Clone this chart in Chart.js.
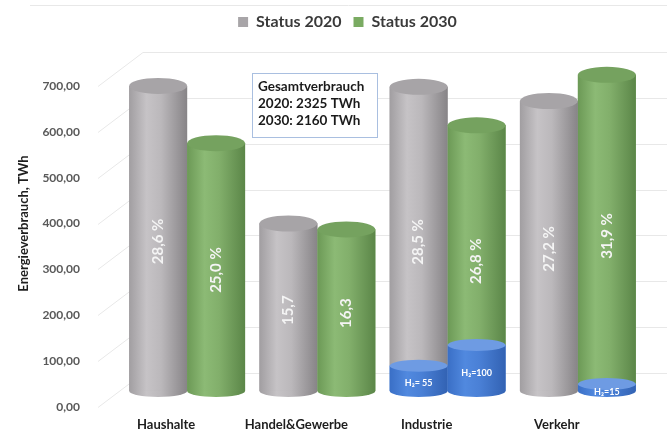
<!DOCTYPE html>
<html>
<head>
<meta charset="utf-8">
<script src="https://cdn.jsdelivr.net/npm/chart.js@4"></script>
<style>
  html, body { margin: 0; padding: 0; background: #fff; }
  #wrap { width: 667px; height: 434px; }
</style>
</head>
<body>
<div id="wrap"><canvas id="chart"></canvas></div>
<script>
// data (TWh)
const categories = ["Haushalte", "Handel&Gewerbe", "Industrie", "Verkehr"];
const status2020 = [665, 365, 663, 632];
const status2030 = [540, 352, 579, 689];
const h2_2020 = [0, 0, 55, 0];
const h2_2030 = [0, 0, 100, 15];
const shares2020 = ["28,6 %", "15,7", "28,5 %", "27,2 %"];
const shares2030 = ["25,0 %", "16,3", "26,8 %", "31,9 %"];
const h2Labels2020 = ["", "", "H₂= 55", ""];
const h2Labels2030 = ["", "", "H₂=100", "H₂=15"];
const yTicks = [0, 100, 200, 300, 400, 500, 600, 700];
const boxLines = ["Gesamtverbrauch", "2020: 2325 TWh", "2030: 2160 TWh"];

const FONT = "Lato, 'Open Sans', sans-serif";

const GRAY = ["#a19ea1", "#c6c3c6", "#bbb8bb", "#878487"];
const GREEN = ["#6c9956", "#8cba75", "#82af6b", "#5b8648"];
const BLUE = ["#3a6fc6", "#5189df", "#4a80d6", "#3262b3"];

function bodyGradient(ctx, x, w, cols) {
  const g = ctx.createLinearGradient(x - w / 2, 0, x + w / 2, 0);
  g.addColorStop(0, cols[0]);
  g.addColorStop(0.3, cols[1]);
  g.addColorStop(0.55, cols[2]);
  g.addColorStop(1, cols[3]);
  return g;
}

// legend sits a little right of centre in the original
const legendShift = {
  id: "legendShift",
  afterLayout(chart) {
    chart.legend.left += 20;
    chart.legend.right += 20;
  }
};

// back wall grid with the little perspective slants
const wallGrid = {
  id: "wallGrid",
  beforeDatasetsDraw(chart) {
    const ctx = chart.ctx;
    const y = chart.scales.y;
    const left = chart.chartArea.left;
    ctx.save();
    ctx.strokeStyle = "#e8e8e8";
    ctx.lineWidth = 1;
    yTicks.forEach(v => {
      const ty = Math.round(y.getPixelForValue(v)) + 0.5;
      ctx.beginPath();
      ctx.moveTo(left - 24, ty);
      ctx.lineTo(left + 21, ty - 34);
      ctx.lineTo(667, ty - 34);
      ctx.stroke();
    });
    ctx.beginPath();
    ctx.moveTo(30, 5.5);
    ctx.lineTo(667, 5.5);
    ctx.stroke();
    ctx.restore();
  }
};

// turn the flat bars into cylinders, add the labels inside
const cylinders = {
  id: "cylinders",
  afterDatasetsDraw(chart) {
    const ctx = chart.ctx;
    const zero = chart.scales.yb.getPixelForValue(0);
    const pairs = [
      [0, 1, GRAY, "#a7a4a7", shares2020, h2Labels2020],
      [2, 3, GREEN, "#75a25f", shares2030, h2Labels2030]
    ];
    ctx.save();
    pairs.forEach(([hi, mi, cols, capCol, shares, hLabels]) => {
      const hMeta = chart.getDatasetMeta(hi);
      const mMeta = chart.getDatasetMeta(mi);
      mMeta.data.forEach((bar, i) => {
        const m = bar.getProps(["x", "y", "base", "width"], true);
        const h = hMeta.data[i].getProps(["x", "y", "base", "width"], true);
        const hasH2 = chart.data.datasets[hi].data[i] > 0;
        const rx = m.width / 2;

        if (hasH2) {
          ctx.fillStyle = bodyGradient(ctx, h.x, h.width, BLUE);
          ctx.fillRect(h.x - rx, h.y, m.width, zero - h.y);
          ctx.beginPath();
          ctx.ellipse(h.x, zero, rx, 6, 0, 0, Math.PI);
          ctx.fill();
        }
        ctx.fillStyle = bodyGradient(ctx, m.x, m.width, cols);
        ctx.fillRect(m.x - rx, m.y, m.width, m.base - m.y);
        if (!hasH2) {
          ctx.beginPath();
          ctx.ellipse(m.x, zero, rx, 6, 0, 0, Math.PI);
          ctx.fill();
        }
        ctx.fillStyle = capCol;
        ctx.beginPath();
        ctx.ellipse(m.x, m.y, rx, 8, 0, 0, Math.PI * 2);
        ctx.fill();

        if (hasH2) {
          ctx.fillStyle = "#6e9be3";
          ctx.beginPath();
          ctx.ellipse(h.x, h.y, rx, 6, 0, 0, Math.PI * 2);
          ctx.fill();
          ctx.fillStyle = "#ffffff";
          ctx.font = "bold 9px " + FONT;
          ctx.textAlign = "center";
          ctx.textBaseline = "middle";
          ctx.fillText(hLabels[i], h.x, zero - (zero - h.y) / 2 + 5);
        }

        // share label, rotated
        ctx.save();
        ctx.translate(m.x, (zero + m.y) / 2 + 3);
        ctx.rotate(-Math.PI / 2);
        ctx.fillStyle = "#f4f4f4";
        ctx.font = "bold 15px " + FONT;
        ctx.textAlign = "center";
        ctx.textBaseline = "middle";
        ctx.fillText(shares[i], 0, 0);
        ctx.restore();
      });
    });

    // category labels (sit a bit left, like the 3d floor)
    const x = chart.scales.x;
    ctx.fillStyle = "#1e1e1e";
    ctx.font = "bold 13px " + FONT;
    ctx.textAlign = "center";
    ctx.textBaseline = "middle";
    categories.forEach((c, i) => {
      ctx.fillText(c, x.getPixelForValue(i) - 21, 425);
    });

    // info box
    ctx.fillStyle = "#ffffff";
    ctx.fillRect(252, 73, 126, 65);
    ctx.strokeStyle = "#a9bfe0";
    ctx.lineWidth = 1;
    ctx.strokeRect(252.5, 73.5, 125, 64);
    ctx.fillStyle = "#1a1a1a";
    ctx.font = "bold 13.5px " + FONT;
    ctx.textAlign = "left";
    boxLines.forEach((t, k) => ctx.fillText(t, 258, 87 + k * 17));
    ctx.restore();
  }
};

new Chart(document.getElementById("chart"), {
  type: "bar",
  data: {
    labels: categories,
    datasets: [
      { label: "H2 2020", data: h2_2020, stack: "s2020", yAxisID: "yb", backgroundColor: "#4a80d6" },
      { label: "Status 2020", data: status2020.map((v, i) => v - h2_2020[i]), stack: "s2020", yAxisID: "yb", backgroundColor: "#a8a5a8" },
      { label: "H2 2030", data: h2_2030, stack: "s2030", yAxisID: "yb", backgroundColor: "#4a80d6" },
      { label: "Status 2030", data: status2030.map((v, i) => v - h2_2030[i]), stack: "s2030", yAxisID: "yb", backgroundColor: "#7aab62" }
    ]
  },
  options: {
    responsive: true,
    maintainAspectRatio: false,
    animation: false,
    datasets: { bar: { barPercentage: 1, categoryPercentage: 0.89 } },
    layout: { padding: { top: 2, left: 12, right: 24, bottom: 27 } },
    plugins: {
      tooltip: { enabled: false },
      legend: {
        position: "top",
        labels: {
          filter: item => item.text.startsWith("Status"),
          boxWidth: 10,
          boxHeight: 10,
          padding: 12,
          color: "#3a3a3a",
          font: { family: FONT, size: 16, weight: "bold" }
        }
      }
    },
    scales: {
      x: { display: false, stacked: true },
      y: {
        position: "left",
        min: 0,
        max: 800,
        afterBuildTicks: s => { s.ticks = yTicks.map(v => ({ value: v })); },
        afterFit: s => { s.width = 110; s.paddingTop = 0; s.paddingBottom = 0; },
        grid: { display: false },
        border: { display: false },
        ticks: {
          padding: 34,
          color: "#595959",
          font: { family: FONT, size: 12, weight: "bold" },
          callback: v => v.toFixed(2).replace(".", ",")
        },
        title: {
          display: true,
          text: "Energieverbrauch, TWh",
          color: "#1e1e1e",
          padding: { top: 4, bottom: 4 },
          font: { family: FONT, size: 13, weight: "bold" }
        }
      },
      yb: { display: false, stacked: true, min: -35, max: 765 }
    }
  },
  plugins: [legendShift, wallGrid, cylinders]
});
</script>
</body>
</html>
